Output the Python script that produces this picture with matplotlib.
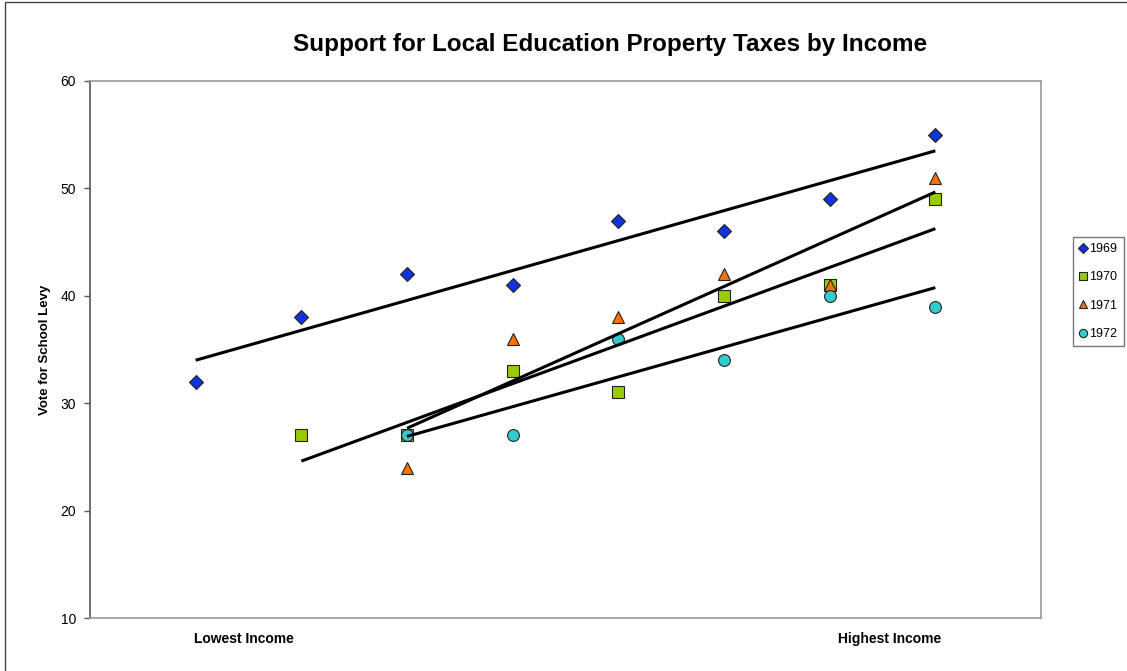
import numpy as np
import matplotlib

matplotlib.use("Agg")

import matplotlib.pyplot as plt
from matplotlib.patches import Rectangle

plt.rcParams["font.family"] = ["Liberation Sans", "DejaVu Sans"]

# income groups, 1 = lowest .. 8 = highest
X_1969 = [1, 2, 3, 4, 5, 6, 7, 8]
Y_1969 = [32, 38, 42, 41, 47, 46, 49, 55]
X_1970 = [2, 3, 4, 5, 6, 7, 8]
Y_1970 = [27, 27, 33, 31, 40, 41, 49]
X_1971 = [3, 4, 5, 6, 7, 8]
Y_1971 = [24, 36, 38, 42, 41, 51]
X_1972 = [3, 4, 5, 6, 7, 8]
Y_1972 = [27, 27, 36, 34, 40, 39]

YEARS = ["1969", "1970", "1971", "1972"]
TICK_LABELS = ["Lowest Income", "Highest Income"]

STYLES = [
    ("D", "#1133dd", 7.5),
    ("s", "#99cc00", 8.0),
    ("^", "#ff7000", 9.0),
    ("o", "#33cccc", 8.5),
]

fig = plt.figure(figsize=(11.27, 6.71), dpi=100)
ax = fig.add_axes([90 / 1127, 1 - 618 / 671, (1041 - 90) / 1127, (618 - 81) / 671])

series = [(X_1969, Y_1969), (X_1970, Y_1970), (X_1971, Y_1971), (X_1972, Y_1972)]

# points first, trend lines on top
for (xs, ys), year, (mk, col, ms) in zip(series, YEARS, STYLES):
    ax.plot(xs, ys, linestyle="none", marker=mk, markersize=ms, markerfacecolor=col,
            markeredgecolor="#222222", markeredgewidth=0.8, label=year, zorder=3)

for xs, ys in series:
    k, b = np.polyfit(xs, ys, 1)
    xx = np.array([xs[0], xs[-1]])
    ax.plot(xx, k * xx + b, color="black", lw=2.2, zorder=4, solid_capstyle="butt")

ax.set_xlim(0, 9)
ax.set_ylim(10, 60)
ax.set_yticks([10, 20, 30, 40, 50, 60])
ax.set_xticks([1.46, 7.57])
ax.set_xticklabels(TICK_LABELS, fontsize=10, fontweight="bold")
ax.tick_params(axis="x", length=0, pad=10)
ax.tick_params(axis="y", length=4, width=1, color="#555555", labelsize=10, pad=6)

for side in ["top", "right", "bottom"]:
    ax.spines[side].set_color("#999999")
    ax.spines[side].set_linewidth(1.2)
ax.spines["left"].set_color("#555555")
ax.spines["left"].set_linewidth(1.2)

ax.set_ylabel("Vote for School Levy", fontsize=9.5, fontweight="bold", labelpad=7)

fig.text(610 / 1127, 1 - 44 / 671, "Support for Local Education Property Taxes by Income",
         ha="center", va="center", fontsize=17.5, fontweight="bold")

leg = fig.legend(loc="upper left", bbox_to_anchor=(1073 / 1127, 1 - 237 / 671),
                 fontsize=9, frameon=True, fancybox=False, edgecolor="#555555",
                 handlelength=0.6, handletextpad=0.2, labelspacing=1.3,
                 borderpad=0.5, markerscale=0.7, borderaxespad=0)
leg.get_frame().set_linewidth(1.0)

# outer frame (only top/left visible in the reference)
fig.add_artist(Rectangle((5 / 1127, -0.1), 1.2, 1 - 2 / 671 + 0.1, transform=fig.transFigure,
                         fill=False, edgecolor="#444444", lw=1.0))

fig.savefig("out.png", dpi=100)
